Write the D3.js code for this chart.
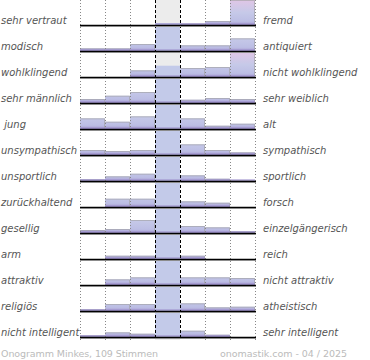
<!DOCTYPE html>
<html>
<head>
<meta charset="utf-8">
<script src="https://cdn.jsdelivr.net/npm/d3@7"></script>
<style>
  html, body { margin: 0; padding: 0; background: #fff; }
  svg { display: block; }
</style>
</head>
<body>
<svg id="chart" width="370" height="360"></svg>
<script>
const leftLabels = ["sehr vertraut", "modisch", "wohlklingend", "sehr männlich", " jung", "unsympathisch", "unsportlich", "zurückhaltend", "gesellig", "arm", "attraktiv", "religiös", "nicht intelligent"];
const rightLabels = ["fremd", "antiquiert", "nicht wohlklingend", "sehr weiblich", "alt", "sympathisch", "sportlich", "forsch", "einzelgängerisch", "reich", "nicht attraktiv", "atheistisch", "sehr intelligent"];
const columns = [0, 1, 2, 3, 4, 5, 6];
const values = [
  [0, 0, 0, 2, 1.5, 4, 30],
  [2.7, 2.7, 7, 30, 5.7, 5.7, 12.7],
  [0, 0, 6.7, 11.3, 9, 10, 30],
  [4, 7.3, 11, 30, 3.3, 5, 4],
  [10.7, 7.3, 12.7, 30, 10.7, 3.3, 5.3],
  [5, 4, 5, 30, 10.7, 5, 2.7],
  [1.7, 4.7, 7.3, 30, 5.7, 2.3, 0.7],
  [0, 8.3, 8.3, 30, 5.7, 4.3, 0],
  [3, 4, 13, 30, 7, 5.7, 1.7],
  [0, 3.3, 3.3, 30, 3.3, 0, 0],
  [0, 5.7, 7.7, 30, 7.7, 7.7, 7],
  [1.7, 7, 7, 30, 7.7, 3.7, 4.3],
  [1.7, 4.7, 3.3, 30, 6.3, 2.3, 0]
];
const footerLeft = "Onogramm Minkes, 109 Stimmen";
const footerRight = "onomastik.com - 04 / 2025";

const svg = d3.select("#chart");
const rowH = 26, firstBase = 25, chartBottom = 340;
const x = d3.scaleBand().domain(columns).range([80, 255]).padding(0);
const rows = d3.range(leftLabels.length);
const base = d3.scaleLinear().domain([0, 1]).range([firstBase, firstBase + rowH]);
const h = d3.scaleLinear().domain([0, 25]).range([0, 25]).clamp(true);

const defs = svg.append("defs");
rows.forEach(i => {
  const b = base(i);
  const g = defs.append("linearGradient").attr("id", "g" + i)
    .attr("gradientUnits", "userSpaceOnUse")
    .attr("x1", 0).attr("x2", 0).attr("y1", b - 25).attr("y2", b);
  g.append("stop").attr("offset", 0).attr("stop-color", "#e0c6e6");
  g.append("stop").attr("offset", 0.5).attr("stop-color", "#c6c9e8");
  g.append("stop").attr("offset", 0.85).attr("stop-color", "#bcbee4");
  g.append("stop").attr("offset", 1).attr("stop-color", "#a89cd2");
});

// center column background
svg.append("rect").attr("x", x(3)).attr("y", 0).attr("width", x.bandwidth()).attr("height", chartBottom)
  .attr("fill", "#ececec");

// bars
rows.forEach(i => {
  const b = base(i);
  const g = svg.append("g");
  g.selectAll("rect.bar").data(values[i].map((v, c) => ({ v, c }))).join("rect")
    .attr("class", "bar")
    .attr("x", d => x(d.c))
    .attr("width", x.bandwidth())
    .attr("y", d => b - h(d.v))
    .attr("height", d => h(d.v))
    .attr("fill", d => d.c === 3 ? "#c3cae9" : `url(#g${i})`);
  g.selectAll("path.edge").data(values[i].map((v, c) => ({ v, c })).filter(d => d.v > 0 && d.c !== 3)).join("path")
    .attr("class", "edge")
    .attr("d", d => {
      const x0 = x(d.c), x1 = x(d.c) + x.bandwidth() - 0.5, y0 = b - h(d.v) + 0.5;
      return `M${x0},${y0}H${x1}V${b}`;
    })
    .attr("fill", "none").attr("stroke", "#a0a0a0").attr("stroke-opacity", 0.6).attr("stroke-width", 1);
  g.selectAll("rect.btm").data(values[i].map((v, c) => ({ v, c })).filter(d => d.v > 0)).join("rect")
    .attr("class", "btm")
    .attr("x", d => x(d.c)).attr("width", x.bandwidth())
    .attr("y", b - 2).attr("height", 2)
    .attr("fill", "#9c90cc").attr("opacity", 0.55);
});

// grid lines
columns.concat([7]).forEach(k => {
  const xx = k < 7 ? x(k) : x(6) + x.bandwidth();
  const dashed = (k === 3 || k === 4);
  svg.append("line")
    .attr("x1", xx + 0.5).attr("x2", xx + 0.5).attr("y1", 0).attr("y2", chartBottom)
    .attr("stroke", dashed ? "#000" : "#888")
    .attr("stroke-width", 1)
    .attr("stroke-dasharray", dashed ? "3,2" : "1,2");
});

// baselines
rows.forEach(i => {
  const b = base(i);
  svg.append("line").attr("x1", 80).attr("x2", 256).attr("y1", b + 1.5).attr("y2", b + 1.5)
    .attr("stroke", "#bbb").attr("stroke-width", 1);
  svg.append("line").attr("x1", 80).attr("x2", 256).attr("y1", b + 0.5).attr("y2", b + 0.5)
    .attr("stroke", "#000").attr("stroke-width", 1.5);
});

// labels
svg.selectAll("text.left").data(rows).join("text")
  .attr("class", "left")
  .attr("x", 1).attr("y", i => base(i) - 1.5)
  .attr("font-family", "DejaVu Sans").attr("font-size", 10).attr("font-style", "italic")
  .attr("fill", "#555").style("white-space", "pre")
  .text(i => leftLabels[i]);
svg.selectAll("text.right").data(rows).join("text")
  .attr("class", "right")
  .attr("x", 263).attr("y", i => base(i) - 1.5)
  .attr("font-family", "DejaVu Sans").attr("font-size", 10).attr("font-style", "italic")
  .attr("fill", "#555")
  .text(i => rightLabels[i]);

svg.append("text").attr("x", 1).attr("y", 357)
  .attr("font-family", "DejaVu Sans").attr("font-size", 9.5).attr("fill", "#bbb")
  .attr("textLength", 157).attr("lengthAdjust", "spacing")
  .text(footerLeft);
svg.append("text").attr("x", 220).attr("y", 357)
  .attr("font-family", "DejaVu Sans").attr("font-size", 9.5).attr("fill", "#bbb")
  .attr("textLength", 127).attr("lengthAdjust", "spacing").style("white-space", "pre")
  .text(footerRight);
</script>
</body>
</html>
